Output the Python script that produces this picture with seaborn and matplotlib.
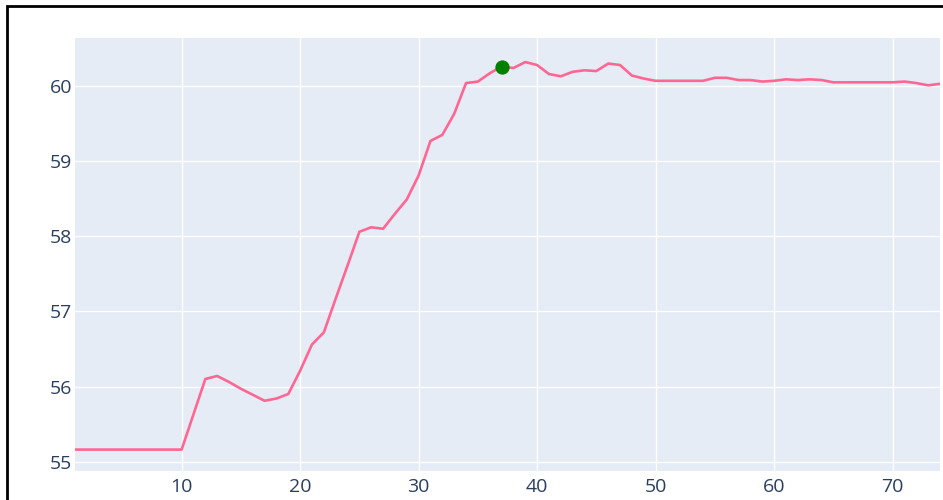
import numpy as np
import pandas as pd
import seaborn as sns
import matplotlib
matplotlib.use("Agg")
from matplotlib import pyplot as plt
from matplotlib.patches import Rectangle

# values
steps = list(range(1, 75))
values = [55.16] * 10 + [
    55.63, 56.10, 56.14, 56.06, 55.97, 55.89, 55.81, 55.84, 55.90, 56.21,
    56.56, 56.72, 57.17, 57.61, 58.06, 58.12, 58.10, 58.30, 58.49, 58.81,
    59.27, 59.35, 59.63, 60.04, 60.06, 60.17, 60.26, 60.24, 60.32, 60.28,
    60.16, 60.13, 60.19, 60.21, 60.20, 60.30, 60.28, 60.14, 60.10, 60.07,
    60.07, 60.07, 60.07, 60.07, 60.11, 60.11, 60.08, 60.08, 60.06, 60.07,
    60.09, 60.08, 60.09, 60.08, 60.05, 60.05, 60.05, 60.05, 60.05, 60.05,
    60.06, 60.04, 60.01, 60.03,
]
best_step = [37]
best_value = [60.26]

xticks = [10, 20, 30, 40, 50, 60, 70]
yticks = [55, 56, 57, 58, 59, 60]

sns.set_theme(style="darkgrid", rc={
    "axes.facecolor": "#E5ECF6",
    "grid.color": "white",
    "grid.linewidth": 1.0,
    "axes.edgecolor": "#E5ECF6",
})
plt.rcParams["font.family"] = ["Open Sans", "DejaVu Sans"]

df = pd.DataFrame({"step": steps, "value": values})
best = pd.DataFrame({"step": best_step, "value": best_value})

fig = plt.figure(figsize=(9.43, 5.0), dpi=100)
ax = fig.add_axes([75 / 943, 29 / 500, 865 / 943, 433 / 500])

sns.lineplot(data=df, x="step", y="value", color="#FF6692", linewidth=1.9, ax=ax)
sns.scatterplot(data=best, x="step", y="value", color="green", s=90,
                edgecolor="green", zorder=5, ax=ax)

ax.set_xlim(1, 74)
ax.set_ylim(54.875, 60.64)
ax.set_xticks(xticks)
ax.set_yticks(yticks)
ax.set_xlabel("")
ax.set_ylabel("")
ax.tick_params(axis="both", length=0, labelsize=14, labelcolor="#2a3f5f")
ax.tick_params(axis="x", pad=5)
ax.tick_params(axis="y", pad=2)
for s in ax.spines.values():
    s.set_visible(False)

# black frame round the screenshot
fig.patches.append(Rectangle((7 / 943, -0.1), 1.2, 1.1 - 6 / 500,
                             transform=fig.transFigure, fill=False,
                             edgecolor="black", linewidth=2))

fig.savefig("out.png", dpi=100)
